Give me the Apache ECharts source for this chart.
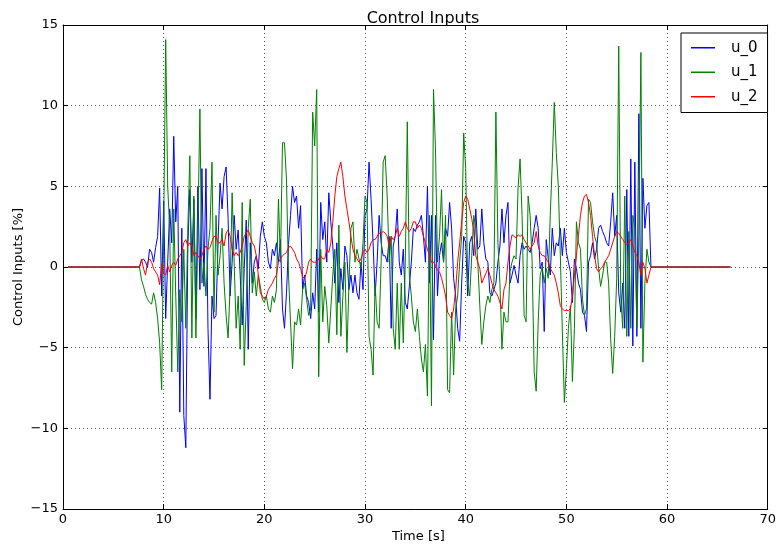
<!DOCTYPE html>
<html>
<head>
<meta charset="utf-8">
<script src="https://cdn.jsdelivr.net/npm/echarts@6/dist/echarts.min.js"></script>
<style>
  html, body { margin: 0; padding: 0; background: #fff; }
  #chart { width: 779px; height: 548px; }
</style>
</head>
<body>
<div id="chart"></div>
<script>
// series names and colours
const seriesNames = ['u_0', 'u_1', 'u_2']
const seriesColors = ['#0000ff', '#008000', '#ff0000']

// time base: flat zero before/after, active samples every 0.2 s from 7.6 s
const padStart = 0.5
const padEnd = 66.3
const activeStart = 7.6
const activeStep = 0.2

// tick labels
const xTicks = [0, 10, 20, 30, 40, 50, 60, 70]
const yTicks = [-15, -10, -5, 0, 5, 10, 15]

// u_0 (blue)
const u0 = [
  0, 0.4, 0.5, 0.3, 0.0, 1.1, 0.9, 0.3, 1.2, 1.9,
  4.9, -1.8, 4.1, -3.2, 0.3, 3.6, 1.5, 8.1, 2.8, 5.0,
  -9.0, 2.4, -9.2, -11.2, 1.3, 4.8, 0.3, 4.2, -3.2, 5.0,
  -1.4, 6.1, -1.2, 6.1, -3.8, -8.2, -1.8, -3.2, -3.0, 1.5,
  5.2, 3.6, 5.6, 6.2, 3.0, -1.8, 0.3, 3.2, 1.1, 2.3,
  -0.5, -3.6, -0.1, 2.9, -5.1, 1.5, -1.0, 0.3, 0.7, -0.1,
  1.9, 2.8, 1.9, 1.5, 0.3, -0.1, 1.1, 0.7, 1.5, 0.3,
  1.7, -2.6, -3.8, -1.6, 1.4, 3.2, 5.0, 4.0, 4.4, 2.4,
  3.8, -1.4, -0.5, -1.8, -2.2, -3.2, -1.6, -2.6, 1.1, -2.8,
  4.0, 1.7, 2.8, 0.3, 4.6, 2.8, 1.3, -1.0, 1.5, -2.2,
  -0.1, -1.4, 1.3, 0.7, -1.4, -0.5, -1.6, -0.5, -1.6, -2.0,
  0.3, -1.4, 3.2, 3.6, 6.5, 4.2, 1.5, -1.8, 0.3, 3.2,
  1.5, 0.7, 0.7, 0.3, 1.9, -3.8, 1.3, 1.9, 3.6, 0.3,
  -0.5, 1.1, -2.2, -2.6, -1.2, 0.3, 2.4, 2.2, 2.6, 2.8,
  3.2, 1.9, 0.3, 5.0, -1.0, 3.2, -4.5, 3.2, -1.8, 0.7,
  1.5, 0.3, 2.4, 1.9, 4.0, 2.4, -0.7, -1.8, -3.8, -4.6,
  -1.0, 1.9, 1.5, -1.8, 1.5, 1.9, 0.7, 3.6, 1.1, 1.3,
  3.6, 1.5, 0.5, 0.3, -1.6, -1.8, -1.4, -1.0, 0.3, 1.3,
  3.6, 1.5, 3.2, 4.0, -1.0, -0.5, 0.1, -0.5, -1.0, 0.7,
  1.5, 1.1, 1.3, 1.1, 0.9, 1.5, 2.4, 3.2, 2.4, -0.1,
  0.3, -4.0, 1.7, 0.5, -0.5, 2.4, 0.7, 1.5, 1.3, 2.4,
  0.7, 2.4, 0.9, 0.3, -0.3, -2.2, 0.5, -0.1, -1.0, -1.4,
  -2.8, -3.0, -4.0, 0.3, 0.7, 1.5, 0.5, 1.1, 2.4, 2.6,
  2.2, 1.9, 1.5, 1.3, 2.8, 4.6, 1.9, 3.2, -1.6, -2.8,
  -1.0, -3.8, 4.8, -4.3, 6.7, -4.9, 6.5, -4.3, 9.5, -3.8,
  5.5, 2.4, 3.8, 4.0, 0
]

// u_1 (green)
const u1 = [
  0, -0.8, -1.2, -1.7, -2.0, -2.2, -2.3, -1.6, -2.2, -3.2,
  -4.7, -7.6, 2.5, 14.1, 5.0, 2.4, -6.5, 3.6, -1.8, -6.5,
  -1.4, -3.4, 1.1, -3.8, 2.4, 6.9, -4.4, 4.4, -4.4, 2.4,
  9.8, -1.0, 0.3, -1.8, 1.1, 2.4, 6.5, -2.8, 3.2, -0.5,
  0.7, 2.4, -1.0, -3.0, -4.4, -1.2, 4.6, 0.3, -3.8, -1.8,
  -5.1, 4.0, -6.1, -2.4, 2.4, 4.2, -1.6, -0.3, -1.8, -0.5,
  -1.2, -2.0, -2.2, -1.8, -2.6, -2.8, -1.8, -2.2, -1.4, 4.2,
  0.3, 7.7, 7.7, 5.4, -0.5, -3.4, -6.3, -3.4, -3.6, -2.6,
  -3.6, -1.4, -1.0, -2.0, -3.0, -2.6, 9.6, 7.5, 11.0, -6.8,
  1.1, -3.4, -1.2, -2.4, -4.7, -2.6, -0.5, 1.1, -4.2, 2.6,
  -4.3, -1.8, 0.3, -5.3, -1.2, 2.4, 2.8, 0.3, 1.1, 0.5,
  -0.1, 1.5, 4.4, 4.0, -4.3, -5.1, -6.7, -1.0, -3.4, -3.8,
  0.3, 6.5, 6.9, 4.4, 0.3, 1.9, -3.8, -5.1, -1.0, -5.1,
  -1.0, -4.7, 0.3, 9.0, -0.5, -1.8, -3.4, -4.0, -2.6, -4.3,
  -5.7, -6.5, -4.8, -8.0, 3.2, -8.6, 11.0, 7.3, 0.3, 1.9,
  4.8, 0.3, 3.2, -7.6, -7.8, -2.8, -6.7, -2.6, -1.8, 0.3,
  1.9, 8.3, 6.1, -1.0, -1.8, 0.7, 3.2, 2.4, 0.3, -2.4,
  -4.8, -3.4, -2.4, -1.8, -2.2, -1.4, -1.0, 9.6, 1.5, -1.0,
  -5.1, -2.8, -3.4, -3.4, -0.3, 0.3, 0.7, 0.5, 4.9, 6.7,
  3.2, -3.0, -3.4, 4.4, 3.2, 0.3, -6.5, -7.7, -3.4, -0.5,
  0.0, -1.0, -0.1, -0.7, 3.2, 6.5, 10.2, 7.1, 5.0, 0.7,
  -4.0, -8.4, -6.3, -3.8, -2.4, -7.1, -3.8, 2.8, 1.5, 1.1,
  -2.0, -3.0, -2.6, 4.2, 4.0, 2.8, 1.9, 1.5, -0.1, -1.2,
  -0.5, 0.3, 0.3, -1.0, -4.5, -6.6, -4.3, -0.7, 13.7, -1.8,
  -3.8, 4.4, -4.3, 2.2, -3.8, 3.2, 2.4, -3.8, 1.9, 13.3,
  -5.9, -1.0, 1.1, 0.3, 0
]

// u_2 (red)
const u2 = [
  0, 0.5, -0.1, -0.5, 0.3, 0.5, 0.3, -0.1, -0.3, -0.5,
  -1.1, 0.2, -0.4, -0.5, 0.1, -0.3, 0.1, 0.3, 0.1, 0.5,
  0.7, 0.9, 1.5, 1.7, 1.3, 1.5, 1.3, 0.7, 0.9, 0.7,
  0.5, 0.7, 1.1, 1.3, 1.1, 1.2, 1.6, 1.9, 1.9, 1.5,
  1.5, 1.7, 1.3, 2.1, 2.3, 1.9, 1.1, 0.7, 0.9, 0.7,
  0.9, 1.3, 1.9, 2.1, 2.3, 1.9, 1.5, 1.3, 0.7, -0.5,
  -1.6, -1.8, -2.0, -1.8, -1.4, -1.2, -1.0, -0.7, -0.5, 0.3,
  0.5, 0.7, 0.8, 0.9, 1.2, 1.3, 1.1, 0.9, 0.5, 0.3,
  -0.1, -0.6, -0.7, -0.3, 0.3, 0.5, 0.3, 0.3, 0.3, 0.5,
  0.7, 0.5, 0.5, 1.1, 0.9, 1.5, 2.8, 4.4, 5.6, 6.1,
  6.5, 5.6, 4.4, 3.6, 2.8, 1.9, 1.1, 0.7, 0.5, 0.3,
  0.5, 0.9, 1.1, 0.9, 1.1, 1.5, 1.7, 1.7, 1.9, 2.1,
  2.1, 2.2, 2.1, 1.9, 1.3, 1.9, 1.7, 1.9, 2.4, 1.9,
  2.2, 2.4, 2.8, 2.4, 2.2, 2.4, 2.8, 2.8, 2.4, 2.6,
  2.4, 1.9, 1.5, 1.1, 0.7, 0.3, 0.3, 0.1, -0.2, -0.3,
  -0.7, -1.2, -1.8, -2.8, -3.0, -3.2, -2.6, -1.4, 0.3, 1.5,
  2.8, 4.0, 4.4, 4.2, 3.6, 3.0, 2.2, 0.7, 0.3, -0.1,
  -1.0, -0.7, -0.4, -0.1, -0.5, -1.0, -1.4, -1.6, -1.8, -2.2,
  -2.6, -1.4, -1.0, 0.3, 1.3, 2.0, 1.9, 1.8, 2.0, 1.9,
  2.0, 1.7, 1.5, 1.3, 1.1, 1.3, 1.5, 2.2, 1.3, 0.9,
  0.7, 0.7, 0.5, 0.3, -0.1, -0.3, -0.5, -1.0, -1.6, -2.4,
  -2.6, -2.7, -2.7, -2.7, -2.6, -1.8, -0.5, 0.7, 2.0, 3.2,
  4.0, 4.4, 4.5, 4.0, 3.2, 1.9, 0.7, -0.1, -0.3, -0.1,
  0.0, 0.3, 0.5, 0.7, 1.1, 1.5, 1.9, 2.2, 2.1, 1.9,
  1.7, 1.5, 1.4, 1.5, 1.7, 1.3, 0.9, 0.7, 0.3, -0.5,
  0.3, -0.1, -1.0, -0.5, 0
]

const font = 'DejaVu Sans'

function toPairs(values) {
  const pts = [[padStart, 0]]
  values.forEach((v, i) => {
    pts.push([+(activeStart + i * activeStep).toFixed(2), v])
  })
  pts.push([padEnd, 0])
  return pts
}

const minusFmt = v => String(v).replace('-', '\u2212')

const chart = echarts.init(document.getElementById('chart'))

const series = [u0, u1, u2].map((vals, k) => {
  return {
    name: seriesNames[k],
    type: 'line',
    data: toPairs(vals),
    symbol: 'none',
    showSymbol: false,
    xAxisIndex: 0,
    yAxisIndex: 0,
    lineStyle: { color: seriesColors[k], width: 1 },
    itemStyle: { color: seriesColors[k] },
    z: 2 + k
  }
})

const gridLine = { show: true, lineStyle: { color: '#555', type: [1, 3], width: 1 } }
const tickStyle = { show: true, inside: true, length: 5, lineStyle: { color: '#000' } }

chart.setOption({
  animation: false,
  backgroundColor: '#fff',
  title: {
    text: 'Control Inputs',
    left: 418,
    top: 6,
    textAlign: 'center',
    textStyle: { fontFamily: font, fontSize: 16, fontWeight: 'normal', color: '#000' }
  },
  grid: { left: 63, right: 7, top: 25, bottom: 37, containLabel: false },
  legend: {
    data: seriesNames,
    orient: 'vertical',
    left: 681,
    top: 33,
    padding: [6, 10, 7, 10],
    itemGap: 7,
    itemWidth: 24,
    itemHeight: 1.5,
    icon: 'rect',
    borderColor: '#000',
    borderWidth: 1,
    borderRadius: 0,
    backgroundColor: '#fff',
    textStyle: { fontFamily: font, fontSize: 15, lineHeight: 17.5, color: '#000', padding: [0, 0, 0, 11] }
  },
  xAxis: [
    {
      type: 'value',
      position: 'bottom',
      min: xTicks[0],
      max: xTicks[xTicks.length - 1],
      interval: 10,
      name: 'Time [s]',
      nameLocation: 'middle',
      nameGap: 21,
      nameMoveOverlap: false,
      nameTextStyle: { fontFamily: font, fontSize: 13, color: '#000', padding: [0, 0, 0, 6] },
      axisLine: { show: true, onZero: false, lineStyle: { color: '#000' } },
      axisTick: tickStyle,
      axisLabel: { fontFamily: font, fontSize: 13, color: '#000', margin: 4 },
      splitLine: gridLine
    },
    {
      type: 'value',
      position: 'top',
      min: xTicks[0],
      max: xTicks[xTicks.length - 1],
      interval: 10,
      axisLine: { show: true, onZero: false, lineStyle: { color: '#000' } },
      axisTick: tickStyle,
      axisLabel: { show: false },
      splitLine: { show: false }
    }
  ],
  yAxis: [
    {
      type: 'value',
      position: 'left',
      min: yTicks[0],
      max: yTicks[yTicks.length - 1],
      interval: 5,
      name: 'Control Inputs [%]',
      nameLocation: 'middle',
      nameGap: 38,
      nameMoveOverlap: false,
      nameTextStyle: { fontFamily: font, fontSize: 13, color: '#000' },
      axisLine: { show: true, onZero: false, lineStyle: { color: '#000' } },
      axisTick: tickStyle,
      axisLabel: { fontFamily: font, fontSize: 13, color: '#000', margin: 5, formatter: minusFmt },
      splitLine: gridLine
    },
    {
      type: 'value',
      position: 'right',
      min: yTicks[0],
      max: yTicks[yTicks.length - 1],
      interval: 5,
      axisLine: { show: true, onZero: false, lineStyle: { color: '#000' } },
      axisTick: tickStyle,
      axisLabel: { show: false },
      splitLine: { show: false }
    }
  ],
  series: series
})
</script>
</body>
</html>
